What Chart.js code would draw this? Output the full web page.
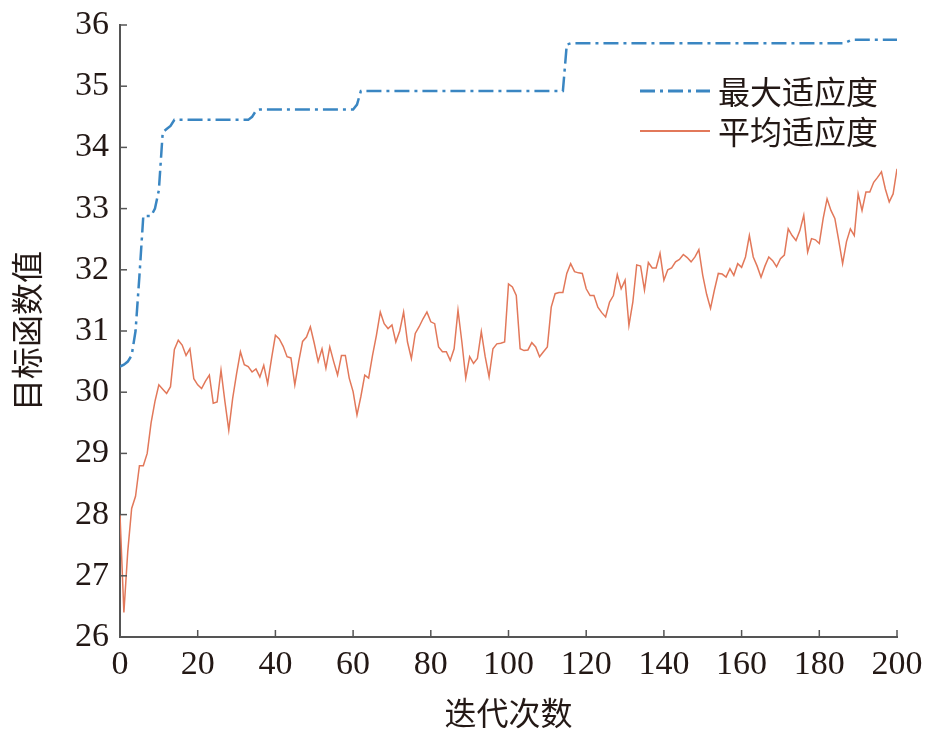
<!DOCTYPE html>
<html>
<head>
<meta charset="utf-8">
<script src="https://cdn.jsdelivr.net/npm/chart.js@4.4.1/dist/chart.umd.min.js"></script>
<style>
    body { margin: 0; background: #fff; }
    #wrap { width: 945px; height: 740px; }
</style>
</head>
<body>
<div id="wrap"><canvas id="fitness-chart"></canvas></div>
<script>
// values, one per iteration (0..200)
const maxFitness = [
    30.42, 30.45, 30.5, 30.6, 31.0, 31.9, 32.88, 32.88, 32.88, 33.0,
    33.3, 34.25, 34.3, 34.35, 34.45, 34.45, 34.45, 34.45, 34.45, 34.45,
    34.45, 34.45, 34.45, 34.45, 34.45, 34.45, 34.45, 34.45, 34.45, 34.45,
    34.45, 34.45, 34.45, 34.45, 34.5, 34.6, 34.62, 34.62, 34.62, 34.62,
    34.62, 34.62, 34.62, 34.62, 34.62, 34.62, 34.62, 34.62, 34.62, 34.62,
    34.62, 34.62, 34.62, 34.62, 34.62, 34.62, 34.62, 34.62, 34.62, 34.62,
    34.62, 34.7, 34.92, 34.92, 34.92, 34.92, 34.92, 34.92, 34.92, 34.92,
    34.92, 34.92, 34.92, 34.92, 34.92, 34.92, 34.92, 34.92, 34.92, 34.92,
    34.92, 34.92, 34.92, 34.92, 34.92, 34.92, 34.92, 34.92, 34.92, 34.92,
    34.92, 34.92, 34.92, 34.92, 34.92, 34.92, 34.92, 34.92, 34.92, 34.92,
    34.92, 34.92, 34.92, 34.92, 34.92, 34.92, 34.92, 34.92, 34.92, 34.92,
    34.92, 34.92, 34.92, 34.92, 34.92, 35.68, 35.7, 35.7, 35.7, 35.7,
    35.7, 35.7, 35.7, 35.7, 35.7, 35.7, 35.7, 35.7, 35.7, 35.7,
    35.7, 35.7, 35.7, 35.7, 35.7, 35.7, 35.7, 35.7, 35.7, 35.7,
    35.7, 35.7, 35.7, 35.7, 35.7, 35.7, 35.7, 35.7, 35.7, 35.7,
    35.7, 35.7, 35.7, 35.7, 35.7, 35.7, 35.7, 35.7, 35.7, 35.7,
    35.7, 35.7, 35.7, 35.7, 35.7, 35.7, 35.7, 35.7, 35.7, 35.7,
    35.7, 35.7, 35.7, 35.7, 35.7, 35.7, 35.7, 35.7, 35.7, 35.7,
    35.7, 35.7, 35.7, 35.7, 35.7, 35.7, 35.7, 35.72, 35.75, 35.76,
    35.76, 35.76, 35.76, 35.76, 35.76, 35.76, 35.76, 35.76, 35.76, 35.76,
    35.76
];

const avgFitness = [
    28.0, 26.4, 27.4, 28.1, 28.3, 28.8, 28.8, 29.0, 29.5, 29.85,
    30.12, 30.05, 29.98, 30.09, 30.7, 30.85, 30.77, 30.6, 30.71, 30.22,
    30.12, 30.06, 30.18, 30.28, 29.82, 29.84, 30.36, 29.85, 29.38, 29.9,
    30.3, 30.66, 30.45, 30.42, 30.33, 30.38, 30.25, 30.44, 30.14, 30.55,
    30.93, 30.87, 30.75, 30.58, 30.56, 30.12, 30.5, 30.83, 30.9, 31.07,
    30.8, 30.5, 30.71, 30.39, 30.74, 30.5, 30.28, 30.6, 30.6, 30.23,
    30.01, 29.63, 29.93, 30.28, 30.23, 30.6, 30.93, 31.31, 31.12, 31.04,
    31.1, 30.82, 31.0, 31.31, 30.82, 30.55, 30.96, 31.07, 31.2, 31.31,
    31.15, 31.12, 30.74, 30.66, 30.66, 30.52, 30.71, 31.34, 30.82, 30.23,
    30.58, 30.47, 30.55, 30.99, 30.58, 30.25, 30.71, 30.79, 30.8, 30.82,
    31.77, 31.72, 31.58, 30.71, 30.68, 30.69, 30.81, 30.74, 30.58, 30.66,
    30.74, 31.39, 31.61, 31.63, 31.63, 31.94, 32.1, 31.97, 31.95, 31.94,
    31.69, 31.58, 31.58, 31.39, 31.3, 31.23, 31.47, 31.58, 31.92, 31.69,
    31.83, 31.09, 31.47, 32.08, 32.06, 31.67, 32.12, 32.03, 32.03, 32.27,
    31.83, 32.0, 32.03, 32.13, 32.17, 32.25, 32.2, 32.13, 32.21, 32.33,
    31.91, 31.6, 31.37, 31.67, 31.94, 31.93, 31.88, 32.02, 31.91, 32.1,
    32.04, 32.21, 32.56, 32.21, 32.06, 31.88, 32.06, 32.21, 32.15, 32.05,
    32.18, 32.24, 32.67, 32.56, 32.48, 32.64, 32.89, 32.29, 32.51, 32.49,
    32.43, 32.84, 33.16, 32.97, 32.84, 32.48, 32.1, 32.46, 32.67, 32.56,
    33.24, 32.97, 33.27, 33.27, 33.43, 33.51, 33.6, 33.32, 33.11, 33.24,
    33.65
];

const seriesNames = ['最大适应度', '平均适应度'];
const xTitle = '迭代次数';
const yTitle = '目标函数值';

const iterations = avgFitness.map((_, i) => i);

const textColor = '#231815';
const axisColor = '#555555';
const tickFont = { family: '"Liberation Serif", "Times New Roman", serif', size: 34 };
const cjkFont = { family: '"Noto Sans CJK SC", sans-serif', size: 32 };

// short tick marks pointing into the plot, like the original
const innerTicks = {
    id: 'innerTicks',
    afterDraw(chart) {
        const { ctx, chartArea } = chart;
        const x = chart.scales.x;
        const y = chart.scales.y;
        ctx.save();
        ctx.strokeStyle = axisColor;
        ctx.lineWidth = 1.5;
        x.ticks.forEach(t => {
            const px = x.getPixelForValue(t.value);
            ctx.beginPath();
            ctx.moveTo(px, chartArea.bottom);
            ctx.lineTo(px, chartArea.bottom - 7);
            ctx.stroke();
        });
        y.ticks.forEach(t => {
            const py = y.getPixelForValue(t.value);
            ctx.beginPath();
            ctx.moveTo(chartArea.left, py);
            ctx.lineTo(chartArea.left + 7, py);
            ctx.stroke();
        });
        ctx.restore();
    }
};

// legend drawn inside the plot, top right
const innerLegend = {
    id: 'innerLegend',
    afterDraw(chart) {
        const { ctx, chartArea } = chart;
        const x0 = chartArea.right - 257;
        const x1 = chartArea.right - 187;
        ctx.save();
        ctx.font = cjkFont.size + 'px ' + cjkFont.family;
        ctx.fillStyle = textColor;
        ctx.textBaseline = 'middle';
        chart.data.datasets.forEach((ds, i) => {
            const yy = chartArea.top + 66 + i * 40;
            ctx.strokeStyle = ds.borderColor;
            ctx.lineWidth = ds.borderWidth + 0.5;
            ctx.setLineDash(ds.borderDash || []);
            ctx.beginPath();
            ctx.moveTo(x0, yy);
            ctx.lineTo(x1, yy);
            ctx.stroke();
            ctx.setLineDash([]);
            ctx.fillText(ds.label, x1 + 8, yy + 1);
        });
        ctx.restore();
    }
};

const ctx = document.getElementById('fitness-chart').getContext('2d');
new Chart(ctx, {
    type: 'line',
    data: {
        labels: iterations,
        datasets: [{
            label: seriesNames[0],
            data: maxFitness,
            borderColor: '#3a86c2',
            borderWidth: 2.5,
            borderDash: [15, 5, 3, 5],
            pointRadius: 0,
            tension: 0
        }, {
            label: seriesNames[1],
            data: avgFitness,
            borderColor: '#e2785a',
            borderWidth: 1.5,
            pointRadius: 0,
            tension: 0
        }]
    },
    options: {
        responsive: true,
        maintainAspectRatio: false,
        animation: false,
        layout: { padding: { top: 25, right: 48, left: 0, bottom: 0 } },
        plugins: {
            legend: { display: false },
            tooltip: { enabled: false }
        },
        scales: {
            x: {
                type: 'linear',
                min: 0,
                max: 200,
                afterFit: s => { s.height = 103; s.paddingLeft = 0; s.paddingRight = 0; },
                border: { display: true, color: axisColor, width: 2 },
                grid: { drawOnChartArea: false, drawTicks: false },
                ticks: { stepSize: 20, color: textColor, font: tickFont, padding: 8, maxRotation: 0 },
                title: { display: true, text: xTitle, color: textColor, font: cjkFont, padding: { top: 0, bottom: 8 } }
            },
            y: {
                min: 26,
                max: 36,
                afterFit: s => { s.width = 120; s.paddingTop = 0; s.paddingBottom = 0; },
                border: { display: true, color: axisColor, width: 2 },
                grid: { drawOnChartArea: false, drawTicks: false },
                ticks: { stepSize: 1, color: textColor, font: tickFont, padding: 11 },
                title: { display: true, text: yTitle, color: textColor, font: cjkFont, padding: { top: 8, bottom: 0 } }
            }
        }
    },
    plugins: [innerTicks, innerLegend]
});
</script>
</body>
</html>
